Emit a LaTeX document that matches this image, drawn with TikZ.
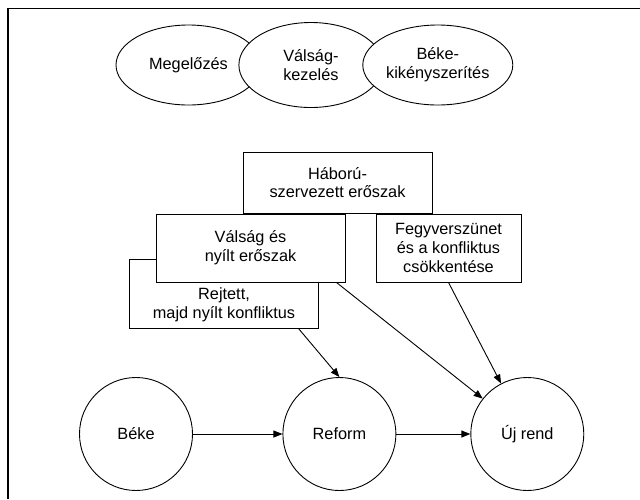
\documentclass[tikz,border=0pt]{standalone}
\usepackage{fontspec}
\setmainfont{Liberation Sans}
\usetikzlibrary{positioning}
\usetikzlibrary{shapes.geometric}
\usetikzlibrary{arrows.meta}

\begin{document}
\begin{tikzpicture}[x=1pt, y=-1pt,
                          every node/.style={font=\fontsize{16.3}{18.8}\selectfont, align=center},
                          ovalnode/.style={ellipse, draw, fill=white, line width=0.9pt, inner sep=0pt, minimum height=80pt},
                          boxnode/.style={rectangle, draw, fill=white, line width=0.9pt, inner sep=0pt},
                          roundnode/.style={circle, draw, line width=0.9pt, inner sep=0pt, minimum size=113pt},
                          arrowline/.style={->, line width=0.9pt, >={Triangle[length=9pt,width=7pt]}},
                      ]
                      \useasboundingbox (0,0) rectangle (640,499);
                      % Frame
                      \draw[line width=1.2pt] (8,499) -- (8,8.5) -- (640,8.5);

                      % Nodes
                      \node[ovalnode, minimum width=145pt]        (megelozes)          at (188.5,65)                {Megel\H{o}zés};
                      \node[ovalnode, minimum width=144pt, minimum height=85pt]    (valsagkezeles)    [right=-23pt of megelozes]    {Válság-\\kezelés};
                      \node[ovalnode, minimum width=150pt]        (bekekikenyszerites) [right=-21pt of valsagkezeles]    {Béke-\\kikényszerítés};

                      \node[boxnode, minimum width=189pt, minimum height=61pt]      (haboru)      at (337.5,182.5)    {Háború-\\szervezett er\H{o}szak};
                      \node[boxnode, draw=none, fill=none, minimum width=188pt, minimum height=46pt]      (rejtett)     at (224,305)        {Rejtett,\\majd nyílt konfliktus};
                      \draw[line width=0.9pt] ([yshift=22pt]rejtett.north west) rectangle (rejtett.south east);
                      \node[boxnode, minimum width=189pt, minimum height=68pt]      (valsag)      at (250.5,248)      {Válság és\\nyílt er\H{o}szak};
                      \node[boxnode, minimum width=145pt, minimum height=68pt]      (fegyverszunet) at (448.5,248)    {Fegyverszünet\\és a konfliktus\\csökkentése};

                      \node[roundnode]        (beke)                                at (136,434)    {Béke};
                      \node[roundnode]        (reform)     [right=89.5pt of beke]                   {Reform};
                      \node[roundnode]        (ujrend)     [right=74pt of reform]                   {Új rend};

                      %Lines
                      \draw[arrowline] (beke.east) -- (reform.west);
                      \draw[arrowline] (reform.east) -- (ujrend.west);
                      \draw[arrowline] ([xshift=-20pt]rejtett.south east) -- (reform.north);
                      \draw[arrowline] ([xshift=-9pt]valsag.south east) -- (ujrend);
                      \draw[arrowline] (fegyverszunet.south) -- (ujrend);
                  \end{tikzpicture}
\end{document}
